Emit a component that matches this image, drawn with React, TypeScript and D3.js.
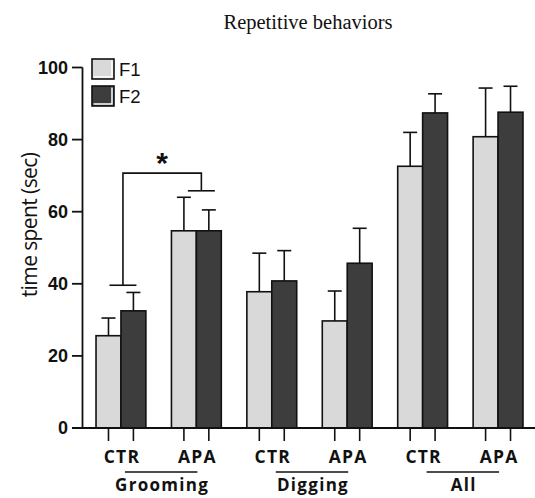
import React from "react";
import * as d3 from "d3";

const groups = ["Grooming", "Digging", "All"];
const conditions = ["CTR", "APA"];
const series = ["F1", "F2"];
const f1Means = [25.6, 54.7, 37.8, 29.7, 72.6, 80.8];
const f1Errors = [4.9, 9.3, 10.7, 8.3, 9.4, 13.5];
const f2Means = [32.5, 54.7, 40.8, 45.7, 87.4, 87.6];
const f2Errors = [5.1, 5.8, 8.4, 9.7, 5.3, 7.2];
const yTicks = [0, 20, 40, 60, 80, 100];
const sigLeftLevel = 39.6;
const sigTopLevel = 70.7;
const sigRightLevel = 65.8;

const fills: Record<string, string> = { F1: "#d9d9d9", F2: "#3d3d3d" };

export default function App() {
  const W = 535;
  const H = 498;
  const cats = groups.flatMap((g) => conditions.map((c) => `${g}|${c}`));
  const x = d3
    .scaleBand<string>()
    .domain(cats)
    .range([83.2, 535.8])
    .paddingInner(0.339)
    .paddingOuter(0.17);
  const xs = d3.scaleBand<string>().domain(series).range([0, x.bandwidth()]);
  const y = d3.scaleLinear().domain([0, 100]).range([428, 67.5]);
  const values: Record<string, number[]> = { F1: f1Means, F2: f2Means };
  const errors: Record<string, number[]> = { F1: f1Errors, F2: f2Errors };
  const axisX = 82.5;
  const y0 = y(0);
  const center = (i: number) => (x(cats[i]) as number) + x.bandwidth() / 2;

  const bars: React.ReactNode[] = [];
  const errs: React.ReactNode[] = [];
  const ticks: React.ReactNode[] = [];
  cats.forEach((cat, i) => {
    series.forEach((s) => {
      const v = values[s][i];
      const e = errors[s][i];
      const bx = (x(cat) as number) + (xs(s) as number);
      const bw = xs.bandwidth();
      const cx = bx + bw / 2;
      errs.push(
        <g key={`e-${cat}-${s}`} stroke="#111" strokeWidth={1.6}>
          <line x1={cx} x2={cx} y1={y(v)} y2={y(v + e)} />
          <line x1={cx - 7} x2={cx + 7} y1={y(v + e)} y2={y(v + e)} />
        </g>
      );
      bars.push(
        <rect
          key={`b-${cat}-${s}`}
          x={bx}
          y={y(v)}
          width={bw}
          height={y0 - y(v)}
          fill={fills[s]}
          stroke="#111"
          strokeWidth={1.6}
        />
      );
      ticks.push(
        <line key={`t-${cat}-${s}`} x1={cx} x2={cx} y1={y0} y2={y0 + 13} stroke="#111" strokeWidth={1.6} />
      );
    });
  });

  const sigL = center(0) + 2;
  const sigR = center(1) + 5;

  return (
    <div>
      <style>{`body{margin:0}`}</style>
      <svg width={W} height={H} style={{ display: "block", background: "#fff" }}>
        <text
          x={308}
          y={29}
          textAnchor="middle"
          fontFamily="'Liberation Serif', 'Times New Roman', serif"
          fontSize={20.5}
          fill="#111"
        >
          Repetitive behaviors
        </text>

        {/* y axis */}
        <line x1={axisX} x2={axisX} y1={y(100)} y2={y0} stroke="#111" strokeWidth={1.8} />
        {yTicks.map((t) => (
          <g key={`yt-${t}`}>
            <line x1={72} x2={axisX} y1={y(t)} y2={y(t)} stroke="#111" strokeWidth={1.8} />
            <text
              x={68}
              y={y(t)}
              dy="0.36em"
              textAnchor="end"
              fontFamily="'Liberation Sans', Arial, sans-serif"
              fontWeight="bold"
              fontSize={18}
              fill="#111"
            >
              {t}
            </text>
          </g>
        ))}
        <text
          transform={`translate(37, 225) rotate(-90)`}
          textAnchor="middle"
          fontFamily="'Open Sans', sans-serif"
          fontSize={21}
          letterSpacing={-0.6}
          fill="#111"
        >
          time spent (sec)
        </text>

        {/* bracket */}
        <g stroke="#111" strokeWidth={1.6} fill="none">
          <line x1={sigL - 13.5} x2={sigL + 13.5} y1={y(sigLeftLevel)} y2={y(sigLeftLevel)} />
          <polyline
            points={`${sigL},${y(sigLeftLevel)} ${sigL},${y(sigTopLevel)} ${sigR},${y(sigTopLevel)} ${sigR},${y(sigRightLevel)}`}
          />
          <line x1={sigR - 13.5} x2={sigR + 13.5} y1={y(sigRightLevel)} y2={y(sigRightLevel)} />
        </g>
        <text
          x={(sigL + sigR) / 2}
          y={173}
          textAnchor="middle"
          fontFamily="'Liberation Sans', Arial, sans-serif"
          fontWeight="bold"
          fontSize={30}
          fill="#111"
        >
          *
        </text>

        {errs}
        {bars}

        {/* x axis */}
        <line x1={72} x2={W} y1={y0} y2={y0} stroke="#111" strokeWidth={1.8} />
        {ticks}

        {cats.map((cat, i) => (
          <text
            key={`cl-${cat}`}
            x={center(i) + 1}
            y={463}
            textAnchor="middle"
            fontFamily="'Open Sans', sans-serif"
            fontWeight="bold"
            fontSize={17.5}
            letterSpacing={1.2}
            fill="#111"
          >
            {cat.split("|")[1]}
          </text>
        ))}
        {groups.map((g, gi) => {
          const a = center(gi * 2) + 4;
          const b = center(gi * 2 + 1) + 1;
          return (
            <g key={`g-${g}`}>
              <line x1={a} x2={b} y1={472} y2={472} stroke="#111" strokeWidth={1.3} />
              <text
                x={(a + b) / 2 + 1}
                y={491}
                textAnchor="middle"
                fontFamily="'Open Sans', sans-serif"
                fontWeight="bold"
                fontSize={17}
                letterSpacing={1.3}
                fill="#111"
              >
                {g}
              </text>
            </g>
          );
        })}

        {/* legend */}
        {series.map((s, i) => {
          const ly = 59 + i * 27;
          return (
            <g key={`lg-${s}`}>
              <rect x={92} y={ly} width={22} height={20} fill={fills[s]} stroke="#111" strokeWidth={1.6} />
              <polyline
                points={`${93.5},${ly + 18} ${112},${ly + 18} ${112},${ly + 1.5}`}
                fill="none"
                stroke="#fff"
                strokeWidth={1.5}
              />
              <text
                x={119}
                y={ly + 17}
                fontFamily="'Liberation Sans', Arial, sans-serif"
                fontSize={18.5}
                fill="#111"
              >
                {s}
              </text>
            </g>
          );
        })}
      </svg>
    </div>
  );
}
